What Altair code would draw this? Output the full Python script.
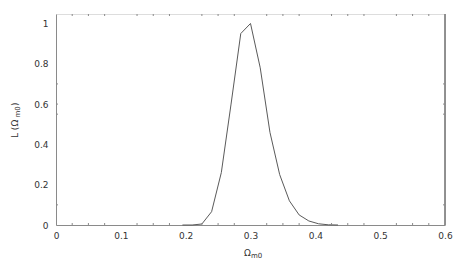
import altair as alt
import pandas as pd

omega = [0.195, 0.21, 0.225, 0.24, 0.255, 0.27, 0.285, 0.30, 0.315, 0.33,
         0.345, 0.36, 0.375, 0.39, 0.405, 0.42, 0.435]
like = [0.0, 0.0, 0.005, 0.066, 0.26, 0.60, 0.95, 1.0, 0.78, 0.46,
        0.25, 0.12, 0.05, 0.02, 0.006, 0.001, 0.0]

x_ticks = [0, 0.1, 0.2, 0.3, 0.4, 0.5, 0.6]
y_ticks = [0, 0.2, 0.4, 0.6, 0.8, 1.0]
x_minor = [0.025, 0.05, 0.075, 0.125, 0.15, 0.175, 0.225, 0.25, 0.275,
           0.325, 0.35, 0.375, 0.425, 0.45, 0.475, 0.525, 0.55, 0.575]
y_minor = [0.1, 0.55, 0.6, 0.7]

W, H = 389, 211
FONT = "DejaVu Sans"
AX = "#8a8a8a"
TXT = "#333333"

df = pd.DataFrame({"omega": omega, "L": like})
xs = alt.Scale(domain=[0, 0.6], nice=False)
ys = alt.Scale(domain=[0, 1.047], nice=False)

base = alt.Chart(df).mark_line(color="#5a5a5a", strokeWidth=1).encode(
    x=alt.X("omega:Q", scale=xs,
            axis=alt.Axis(values=x_ticks, title=None, format="~g", grid=False,
                          domainColor=AX, tickColor=AX, tickSize=0,
                          labelFont=FONT, labelFontSize=9, labelColor=TXT,
                          labelPadding=6, labelFlush=False)),
    y=alt.Y("L:Q", scale=ys,
            axis=alt.Axis(values=y_ticks, title=None, format="~g", grid=False,
                          domainColor=AX, tickColor=AX, tickSize=0,
                          labelFont=FONT, labelFontSize=9, labelColor=TXT,
                          labelPadding=8)),
)

xm = pd.DataFrame({"x": x_minor})
bot_ticks = alt.Chart(xm).mark_rule(color=AX, strokeWidth=1).encode(
    x=alt.X("x:Q", scale=xs), y=alt.value(H), y2=alt.value(H - 2))
top_ticks = alt.Chart(xm).mark_rule(color=AX, strokeWidth=1).encode(
    x=alt.X("x:Q", scale=xs), y=alt.value(0), y2=alt.value(2))

ym = pd.DataFrame({"y": y_minor})
left_ticks = alt.Chart(ym).mark_rule(color=AX, strokeWidth=1).encode(
    y=alt.Y("y:Q", scale=ys), x=alt.value(0), x2=alt.value(2))
right_ticks = alt.Chart(ym).mark_rule(color=AX, strokeWidth=1).encode(
    y=alt.Y("y:Q", scale=ys), x=alt.value(W - 2), x2=alt.value(W))
right_line = alt.Chart(ym).mark_rule(color=AX, strokeWidth=1).encode(
    x=alt.value(W), y=alt.value(0), y2=alt.value(H))

xt1 = alt.Chart(pd.DataFrame({"t": ["Ω"]})).mark_text(
    font=FONT, fontSize=9, color=TXT, align="right").encode(
    text="t:N", x=alt.value(W / 2 + 0.5), y=alt.value(H + 28))
xt2 = alt.Chart(pd.DataFrame({"t": ["m0"]})).mark_text(
    font=FONT, fontSize=7, color=TXT, align="left").encode(
    text="t:N", x=alt.value(W / 2 + 0.5), y=alt.value(H + 31))

YX = -41
yt1 = alt.Chart(pd.DataFrame({"t": ["L (Ω"]})).mark_text(
    font=FONT, fontSize=9, color=TXT, align="left", baseline="middle", angle=270).encode(
    text="t:N", x=alt.value(YX), y=alt.value(124))
yt2 = alt.Chart(pd.DataFrame({"t": ["m0"]})).mark_text(
    font=FONT, fontSize=7, color=TXT, align="left", baseline="middle", angle=270).encode(
    text="t:N", x=alt.value(YX + 3), y=alt.value(103.5))
yt3 = alt.Chart(pd.DataFrame({"t": [")"]})).mark_text(
    font=FONT, fontSize=9, color=TXT, align="left", baseline="middle", angle=270).encode(
    text="t:N", x=alt.value(YX), y=alt.value(92))

chart = alt.layer(base, bot_ticks, top_ticks, left_ticks, right_ticks, right_line,
                  xt1, xt2, yt1, yt2, yt3).properties(
    width=W, height=H,
    autosize=alt.AutoSizeParams(type="none"),
    padding={"left": 48, "top": 6, "right": 10, "bottom": 40},
).configure_view(stroke=None).configure(background="white")

chart.save("out.html", embed_options={"renderer": "svg", "actions": False})
